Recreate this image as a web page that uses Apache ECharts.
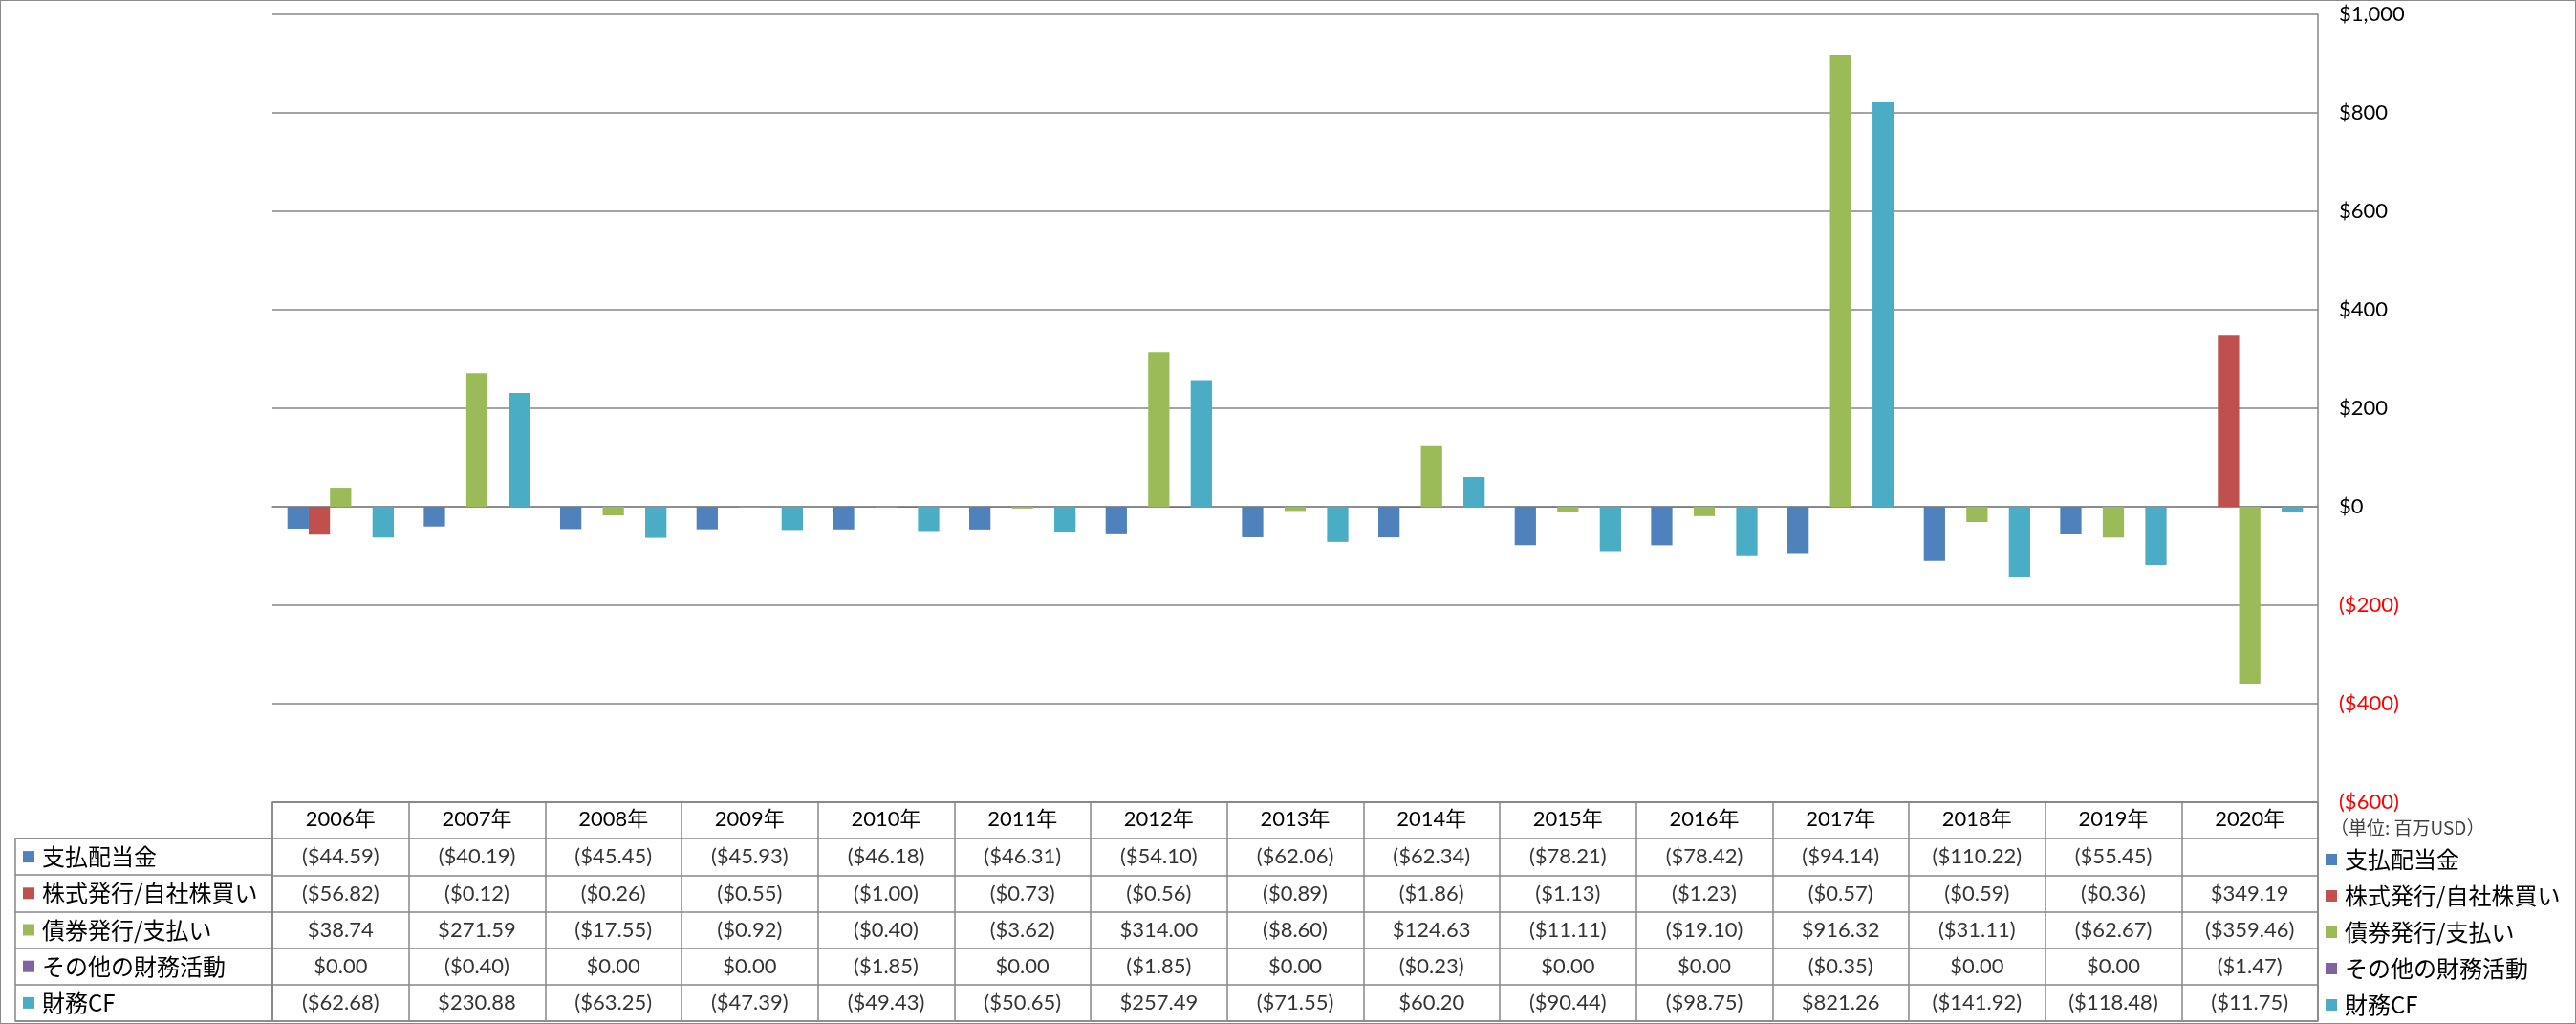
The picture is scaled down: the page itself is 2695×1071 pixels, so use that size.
<!DOCTYPE html>
<html><head><meta charset="utf-8">
<script src="https://cdn.jsdelivr.net/npm/echarts@6/dist/echarts.min.js"></script>
<style>
html,body{margin:0;padding:0;background:#fff}
#c{width:2695px;height:1071px}
#frame{position:absolute;left:0;top:0;width:2695px;height:1071px;box-sizing:border-box;border:1px solid #8a8a8a;pointer-events:none}
</style>
</head><body><div id="c"></div><div id="frame"></div>
<script>
// ---- data ----
const years = ['2006年','2007年','2008年','2009年','2010年','2011年','2012年','2013年','2014年','2015年','2016年','2017年','2018年','2019年','2020年'];
const seriesNames = ['支払配当金','株式発行/自社株買い','債券発行/支払い','その他の財務活動','財務CF'];
const dividends = [-44.59,-40.19,-45.45,-45.93,-46.18,-46.31,-54.10,-62.06,-62.34,-78.21,-78.42,-94.14,-110.22,-55.45,null];
const stockIssue = [-56.82,-0.12,-0.26,-0.55,-1.00,-0.73,-0.56,-0.89,-1.86,-1.13,-1.23,-0.57,-0.59,-0.36,349.19];
const bondIssue = [38.74,271.59,-17.55,-0.92,-0.40,-3.62,314.00,-8.60,124.63,-11.11,-19.10,916.32,-31.11,-62.67,-359.46];
const otherFin = [0.00,-0.40,0.00,0.00,-1.85,0.00,-1.85,0.00,-0.23,0.00,0.00,-0.35,0.00,0.00,-1.47];
const financeCF = [-62.68,230.88,-63.25,-47.39,-49.43,-50.65,257.49,-71.55,60.20,-90.44,-98.75,821.26,-141.92,-118.48,-11.75];
const axisMin = -600, axisMax = 1000, axisStep = 200;
const unitLabel = '（単位: 百万USD）';

// ---- styles ----
const colors = ['#4F81BD','#C0504D','#9BBB59','#8064A2','#4BACC6'];
const gridColor = '#878787';
const numFont = 'Lato, "Noto Sans CJK JP", sans-serif';
const jpFont = '"Noto Sans CJK JP", sans-serif';

const allSeries = [dividends, stockIssue, bondIssue, otherFin, financeCF];

function fmtAxis(v){
  const a = Math.abs(v).toLocaleString('en-US');
  return v < 0 ? '($' + a + ')' : '$' + a;
}
function fmtCell(v){
  if (v === null || v === undefined) return '';
  const a = Math.abs(v).toFixed(2);
  return v < 0 ? '($' + a + ')' : '$' + a;
}

const cellData = [];
allSeries.forEach((arr, s) => {
  arr.forEach((v, i) => { cellData.push([i, s + 1, v]); });
});

const rich = { t: { fontFamily: jpFont, fontSize: 24, color: '#000', padding: [0,0,0,8] } };
colors.forEach((c, i) => { rich['s' + i] = { backgroundColor: c, width: 12, height: 12 }; });

const chart = echarts.init(document.getElementById('c'), null, { renderer: 'canvas' });
chart.setOption({
  animation: false,
  backgroundColor: '#fff',
  grid: [
    { left: 285, top: 15, width: 2140, height: 824 },
    { left: 285, top: 839, width: 2140, height: 229, show: true, borderColor: gridColor, borderWidth: 1.5, backgroundColor: 'transparent' },
    { left: 16, top: 877, width: 269, height: 191, show: true, borderColor: gridColor, borderWidth: 1.5, backgroundColor: 'transparent' }
  ],
  legend: {
    orient: 'vertical', left: 2433, top: 887, padding: 0, itemWidth: 12, itemHeight: 12, itemGap: 14,
    icon: 'rect', selectedMode: false, data: seriesNames,
    textStyle: { fontFamily: jpFont, fontSize: 24, color: '#000', lineHeight: 24, padding: [0,0,0,3] }
  },
  graphic: [
    { type: 'text', left: 2438, top: 856, style: { text: unitLabel, font: '19px "Noto Sans CJK JP"', fill: '#404040' } }
  ],
  xAxis: [
    { type: 'category', gridIndex: 0, data: years, axisLabel: { show: false }, axisTick: { show: false },
      axisLine: { show: true, lineStyle: { color: gridColor, width: 1.5 } }, splitLine: { show: false } },
    { type: 'category', gridIndex: 1, data: years, position: 'top',
      axisLine: { show: false }, axisTick: { show: false },
      splitLine: { show: true, interval: 0, lineStyle: { color: gridColor, width: 1.5 } },
      axisLabel: { inside: true, interval: 0, margin: 7, fontFamily: numFont, fontSize: 22, color: '#000' } },
    { type: 'value', gridIndex: 2, show: false }
  ],
  yAxis: [
    { type: 'value', gridIndex: 0, position: 'right', min: axisMin, max: axisMax, interval: axisStep,
      axisLine: { show: true, lineStyle: { color: gridColor, width: 1.5 } }, axisTick: { show: false },
      splitLine: { show: true, lineStyle: { color: gridColor, width: 1.5 } },
      axisLabel: { margin: 22, fontFamily: numFont, fontSize: 22,
        color: v => (Number(v) < 0 ? '#FF0000' : '#000000'), formatter: v => fmtAxis(v) } },
    { type: 'category', gridIndex: 1, inverse: true, data: [''].concat(seriesNames),
      axisLine: { show: false }, axisTick: { show: false }, axisLabel: { show: false },
      splitLine: { show: true, interval: 0, lineStyle: { color: gridColor, width: 1.5 } } },
    { type: 'category', gridIndex: 2, inverse: true, data: seriesNames,
      axisLine: { show: false }, axisTick: { show: false },
      splitLine: { show: true, interval: 0, lineStyle: { color: gridColor, width: 1.5 } },
      axisLabel: { inside: true, interval: 0, margin: 8, rich: rich,
        formatter: (val, idx) => '{s' + idx + '|}{t|' + val + '}' } }
  ],
  series: allSeries.map((arr, s) => ({
    type: 'bar', name: seriesNames[s], xAxisIndex: 0, yAxisIndex: 0, data: arr,
    itemStyle: { color: colors[s] }, barGap: '0%', barCategoryGap: '22%', silent: true
  })).concat([{
    type: 'scatter', xAxisIndex: 1, yAxisIndex: 1, data: cellData, symbol: 'rect', symbolSize: 1,
    itemStyle: { color: 'rgba(0,0,0,0)' }, silent: true,
    label: { show: true, position: 'inside', fontFamily: numFont, fontSize: 22, color: '#000',
      formatter: p => fmtCell(p.value[2]) }
  }])
});
</script>
</body></html>
